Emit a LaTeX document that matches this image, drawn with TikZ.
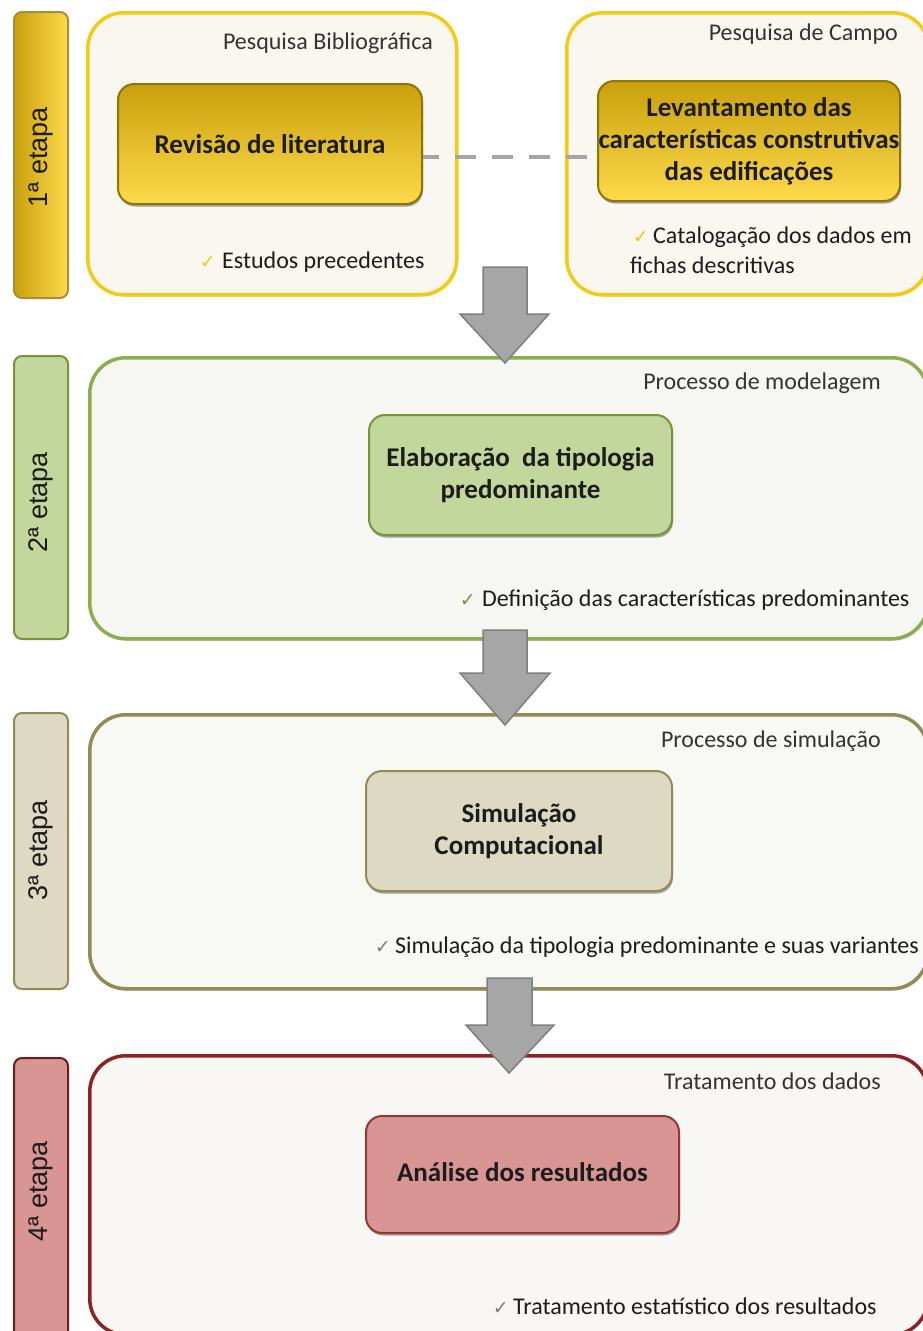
\documentclass[tikz,border=0pt]{standalone}
\usepackage{fontspec}
\setmainfont{Carlito}
\newfontfamily\tabfont{Liberation Sans}
\newfontfamily\symfont{DejaVu Sans}
\usetikzlibrary{shadows,calc}

% palette
\definecolor{goldDark}{HTML}{C9A00C}
\definecolor{goldLight}{HTML}{FDDA4C}
\definecolor{goldLine}{HTML}{F2CB12}
\definecolor{goldEdge}{HTML}{8C7608}
\definecolor{paperA}{HTML}{F9F7F0}
\definecolor{greenFill}{HTML}{C3D69B}
\definecolor{greenLine}{HTML}{77933C}
\definecolor{greenFrame}{HTML}{8BAE4E}
\definecolor{paperB}{HTML}{F6F7F2}
\definecolor{sandFill}{HTML}{DDD9C3}
\definecolor{sandLine}{HTML}{948A54}
\definecolor{paperC}{HTML}{F8F8F4}
\definecolor{roseFill}{HTML}{D99594}
\definecolor{roseLine}{HTML}{943634}
\definecolor{roseFrame}{HTML}{8B2323}
\definecolor{paperD}{HTML}{F8F7F3}
\definecolor{arrowFill}{HTML}{A6A6A6}
\definecolor{arrowLine}{HTML}{7F7F7F}
\definecolor{dashGray}{HTML}{A5A5A5}
\definecolor{ink}{HTML}{1C1C1C}

\newcommand{\tick}[1]{{\symfont\fontsize{19}{19}\selectfont\textcolor{#1}{✓}}}

\begin{document}
\begin{tikzpicture}[x=1pt,y=-1pt,
  tabbar/.style={draw, line width=2pt, rounded corners=8pt, inner sep=0pt,
    anchor=north west, minimum width=54pt},
  tablabel/.style={rotate=90, anchor=base, inner sep=0pt, text=ink,
    font=\tabfont\fontsize{27}{27}\selectfont},
  stagebox/.style={draw, line width=3.5pt, rounded corners=36pt, inner sep=0pt,
    anchor=north west},
  taskbox/.style={draw, line width=2pt, rounded corners=16pt, inner sep=0pt,
    anchor=north west, align=center, text=ink,
    font=\bfseries\fontsize{27}{32}\selectfont,
    drop shadow={shadow xshift=1pt, shadow yshift=-2.5pt, opacity=0.35, fill=black}},
  boxtitle/.style={anchor=base east, inner sep=0pt, text=ink!90,
    font=\fontsize{24}{28}\selectfont},
  note/.style={anchor=base west, inner sep=0pt, text=ink,
    font=\fontsize{24}{28}\selectfont},
  tickmark/.style={anchor=base east, inner sep=0pt},
  dashline/.style={draw=dashGray, line width=4.5pt,
    dash pattern=on 21pt off 16pt, dash phase=5pt},
  blockarrow/.style={fill=arrowFill, draw=arrowLine, line width=1.5pt, line join=miter}
]
\useasboundingbox (0,0) rectangle (923,1331);
\fill[white] (0,0) rectangle (923,1331);

% ---------- 1st stage ----------
\node[tabbar, minimum height=286pt, left color=goldDark, right color=goldLight,
      draw=goldEdge!80] (tab1) at (13,11) {};
\node[tablabel] (lab1) at (47,157) {1ª etapa};

\node[stagebox, draw=goldLine, fill=paperA, minimum width=369pt, minimum height=282pt,
      drop shadow={shadow xshift=1pt, shadow yshift=-2pt, opacity=0.3, fill=goldDark}]
      (biblio) at (86,11) {};
\node[stagebox, draw=goldLine, fill=paperA, minimum width=362pt, minimum height=282pt,
      drop shadow={shadow xshift=1pt, shadow yshift=-2pt, opacity=0.3, fill=goldDark}]
      (campo) at (565,11) {};

\node[boxtitle] (biblioT) at (433,49) {Pesquisa Bibliográfica};
\node[boxtitle] (campoT) at (898,40) {Pesquisa de Campo};

\node[taskbox, draw=goldEdge, top color=goldDark, bottom color=goldLight,
      minimum width=304pt, minimum height=120pt] (rev) at (117,83)
      {Revisão de literatura};
\node[taskbox, draw=goldEdge, top color=goldDark, bottom color=goldLight,
      minimum width=302pt, minimum height=120pt] (lev) at (597,80)
      {Levantamento das\\características construtivas\\das edificações};

\node[note] (est) at (222,268) {Estudos precedentes};
\node[tickmark] (estC) at ([xshift=-6pt]est.base west) {\tick{goldLine}};

\node[note] (cat1) at (653,243) {Catalogação dos dados em};
\node[tickmark] (cat1C) at ([xshift=-4pt]cat1.base west) {\tick{goldLine}};
\node[note] (cat2) at (630,273) {fichas descritivas};

\coordinate (d1) at ($(rev.east)+(0,13)$);
\draw[dashline] (d1) -- (d1 -| lev.west);

% ---------- 2nd stage ----------
\node[tabbar, minimum height=283pt, fill=greenFill, draw=greenLine] (tab2) at (13,355) {};
\node[tablabel] (lab2) at (47,502) {2ª etapa};
\node[stagebox, draw=greenFrame, fill=paperB, minimum width=838pt, minimum height=281pt,
      drop shadow={shadow xshift=1pt, shadow yshift=-2pt, opacity=0.35, fill=greenLine}]
      (mod) at (88,356) {};
\node[boxtitle] (modT) at (881,389) {Processo de modelagem};
\node[taskbox, draw=greenLine, fill=greenFill, minimum width=303pt, minimum height=120pt]
      (elab) at (368,414) {Elaboração\ \ da tipologia\\predominante};
\node[note] (def) at (482,606) {Definição das características predominantes};
\node[tickmark] (defC) at ([xshift=-6pt]def.base west) {\tick{greenLine}};

% ---------- 3rd stage ----------
\node[tabbar, minimum height=276pt, fill=sandFill, draw=sandLine] (tab3) at (13,712) {};
\node[tablabel] (lab3) at (47,850) {3ª etapa};
\node[stagebox, draw=sandLine, fill=paperC, minimum width=838pt, minimum height=274pt,
      drop shadow={shadow xshift=1pt, shadow yshift=-2pt, opacity=0.35, fill=sandLine}]
      (simP) at (88,713) {};
\node[boxtitle] (simT) at (881,747) {Processo de simulação};
\node[taskbox, draw=sandLine, fill=sandFill, minimum width=306pt, minimum height=120pt]
      (sim) at (365,770) {Simulação\\Computacional};
\node[note] (simN) at (395,953) {Simulação da tipologia predominante e suas variantes};
\node[tickmark] (simC) at ([xshift=-4pt]simN.base west) {\tick{arrowLine}};

% ---------- 4th stage ----------
\node[tabbar, minimum height=300pt, fill=roseFill, draw=roseFrame!80!black] (tab4) at (13,1057) {};
\node[tablabel] (lab4) at (47,1191) {4ª etapa};
\node[stagebox, draw=roseFrame, fill=paperD, minimum width=838pt, minimum height=279pt]
      (trat) at (88,1054) {};
\node[boxtitle] (tratT) at (881,1089) {Tratamento dos dados};
\node[taskbox, draw=roseLine, fill=roseFill, minimum width=313pt, minimum height=117pt]
      (ana) at (365,1115) {\raisebox{5pt}{Análise dos resultados}};
\node[note] (est4) at (513,1314) {Tratamento estatístico dos resultados};
\node[tickmark] (est4C) at ([xshift=-4pt]est4.base west) {\tick{arrowLine}};

% ---------- block arrows between the stages ----------
\draw[blockarrow] (483,267) -- (527,267) -- (527,314) -- (549,314) -- (505,363)
      -- (460,314) -- (483,314) -- cycle;
\draw[blockarrow] (483,630) -- (527,630) -- (527,673) -- (550,673) -- (505,725)
      -- (460,673) -- (483,673) -- cycle;
\draw[blockarrow] (487,978) -- (532,978) -- (532,1025) -- (554,1025) -- (509,1073)
      -- (466,1025) -- (487,1025) -- cycle;
\end{tikzpicture}
\end{document}
